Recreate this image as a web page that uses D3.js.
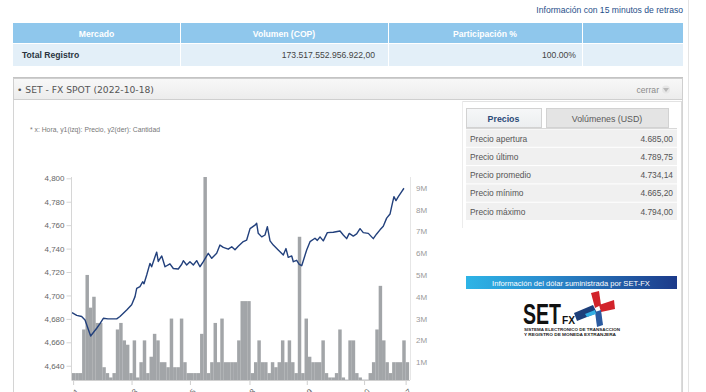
<!DOCTYPE html>
<html><head><meta charset="utf-8">
<script src="https://cdn.jsdelivr.net/npm/d3@7"></script>
<style>html,body{margin:0;padding:0;background:#fff;overflow:hidden}svg{display:block}</style>
</head><body><svg id="c" width="706" height="392"></svg>
<script>
// ---------- data ----------
const tableHeaders = ["Mercado", "Volumen (COP)", "Participación %", ""];
const summaryRow = ["Total Registro", "173.517.552.956.922,00", "100.00%", ""];
const panelTitle = "SET - FX SPOT (2022-10-18)";
const chartNote = "* x: Hora, y1(izq): Precio, y2(der): Cantidad";
const tabLabels = ["Precios", "Volúmenes (USD)"];
const priceLabels = ["Precio apertura", "Precio último", "Precio promedio", "Precio mínimo", "Precio máximo"];
const priceValues = ["4.685,00", "4.789,75", "4.734,14", "4.665,20", "4.794,00"];
const bannerText = "Información del dólar suministrada por SET-FX";

// x: minutes after 08:00
const tickMinutes = [1, 53, 105, 158, 209, 260, 297];
const tickLabels = ["08:01", "08:53", "09:45", "10:38", "11:29", "12:20", "12:57"];
const priceTicks = [4640, 4660, 4680, 4700, 4720, 4740, 4760, 4780, 4800];
const volumeTicks = [1, 2, 3, 4, 5, 6, 7, 8, 9];

const barInterval = 3; // minutes per volume bar
const barVolumesM = [
  0.5,0.5,0.5,2.5,5.0,3.5,4.0,2.8,2.8,0.77,
  0.5,0.3,0.5,2.5,2.8,2.0,1.8,0.5,2.0,0.3,
  1.0,2.0,0.5,1.25,2.3,2.0,1.0,1.0,0.77,3.0,
  0.77,0.77,3.0,1.0,0.5,0.5,0.5,0.5,2.3,9.5,
  0.5,1.0,2.8,1.0,3.0,1.0,1.0,1.0,1.0,2.0,
  3.8,3.8,3.8,0.5,1.0,2.0,1.0,1.0,0.5,1.0,
  0.77,1.0,2.0,1.0,2.0,1.0,0.5,6.75,0.5,3.0,
  1.25,1.0,1.0,1.0,2.0,0.5,0.3,0.3,0.5,2.5,
  0.3,0.2,2.0,2.0,0.5,0.3,0.2,0.2,0.5,1.0,
  2.5,4.5,2.0,1.0,0.5,1.0,1.0,1.0,2.0,1.0
];
const lineMinutes = [
  0,4.2,8.6,11.6,16.6,22.0,24.9,27.9,32.0,39.8,
  42.7,48.7,53.1,56.1,57.6,60.5,62.9,64.1,66.5,69.4,
  70.9,73.9,75.4,76.8,79.9,82.8,87.2,90.2,94.6,97.7,
  99.1,102.1,105.0,108.0,111.0,113.9,116.9,121.3,124.4,128.8,
  131.7,134.7,139.1,142.2,145.1,148.0,152.5,155.5,158.5,162.9,
  164.4,165.8,168.9,171.8,173.9,176.3,179.2,183.6,188.1,190.5,
  192.5,195.6,197.0,200.0,202.3,204.5,208.9,211.9,216.3,218.4,
  220.8,223.7,227.3,232.6,238.6,241.5,244.5,246.8,250.4,253.4,
  256.4,259.3,263.8,268.2,271.2,274.2,277.1,280.1,283.1,284.6,
  286.6,288.4,290.5,293.5,295.5
];
const linePrices = [
  4685.3,4683,4682,4679,4665.4,4672,4676,4680.5,4680,4680,
  4682,4687.6,4692,4699,4706,4707.5,4711.7,4710,4717.5,4727.4,
  4724.5,4733,4737,4729,4733.7,4724.5,4727,4723,4722.6,4726.6,
  4729.7,4726,4728.8,4726,4729.7,4724.5,4728.8,4736,4731.7,4736,
  4743,4741,4739.5,4741.6,4739,4742,4746,4747.3,4757,4760,
  4761.6,4753,4750,4751.6,4758.7,4746.6,4743,4738.8,4734.5,4740,
  4732.5,4733.7,4728.8,4730,4726.6,4725.4,4738.8,4745.9,4748.8,4747,
  4750,4746.6,4753.6,4754,4755,4751.6,4748.5,4753,4750.7,4752.5,
  4757,4753.6,4753,4748.5,4752.5,4756,4759,4766,4769.5,4776,
  4784.3,4781,4784.3,4788.6,4791.5
];

// ---------- page ----------
const svg = d3.select("#c");
const SANS = "'Liberation Sans', Arial, sans-serif";
const defs = svg.append("defs");

svg.append("line").attr("x1", 688.5).attr("x2", 688.5).attr("y1", 0).attr("y2", 392).attr("stroke", "#e4e4e4");

svg.append("text").attr("x", 683).attr("y", 13).attr("text-anchor", "end")
  .attr("font-family", SANS).attr("font-size", 8.6).attr("fill", "#1f4f8a").text("Información con 15 minutos de retraso");

// summary table
const colEdges = [13, 180, 388, 582, 683];
svg.append("rect").attr("x", 13).attr("y", 23).attr("width", 670).attr("height", 20).attr("fill", "#8fc7ec");
svg.append("rect").attr("x", 13).attr("y", 43).attr("width", 670).attr("height", 23).attr("fill", "#e3eff8");
colEdges.slice(1, -1).forEach(x => {
  svg.append("line").attr("x1", x + 0.5).attr("x2", x + 0.5).attr("y1", 23).attr("y2", 66).attr("stroke", "#fff");
});
svg.append("line").attr("x1", 13).attr("x2", 683).attr("y1", 43.5).attr("y2", 43.5).attr("stroke", "#fff");
tableHeaders.forEach((h, i) => {
  svg.append("text").attr("x", (colEdges[i] + colEdges[i + 1]) / 2).attr("y", 36.5).attr("text-anchor", "middle")
    .attr("font-family", SANS).attr("font-size", 8.6).attr("font-weight", "bold").attr("fill", "#fff").text(h);
});
svg.append("text").attr("x", 22).attr("y", 58).attr("font-family", SANS).attr("font-size", 8.6)
  .attr("font-weight", "bold").attr("fill", "#2a3440").text(summaryRow[0]);
svg.append("text").attr("x", 375).attr("y", 58).attr("text-anchor", "end").attr("font-family", SANS)
  .attr("font-size", 8.6).attr("fill", "#444").text(summaryRow[1]);
svg.append("text").attr("x", 576).attr("y", 58).attr("text-anchor", "end").attr("font-family", SANS)
  .attr("font-size", 8.6).attr("fill", "#444").text(summaryRow[2]);

// panel
svg.append("rect").attr("x", 13.5).attr("y", 78.5).attr("width", 669).attr("height", 330)
  .attr("fill", "#fff").attr("stroke", "#d4d4d4");
const hg = defs.append("linearGradient").attr("id", "hg").attr("x1", 0).attr("x2", 0).attr("y1", 0).attr("y2", 1);
hg.append("stop").attr("offset", 0).attr("stop-color", "#f8f8f8");
hg.append("stop").attr("offset", 1).attr("stop-color", "#ececec");
svg.append("rect").attr("x", 13.5).attr("y", 78.5).attr("width", 669).attr("height", 21)
  .attr("fill", "url(#hg)").attr("stroke", "#cfcfcf");
svg.append("line").attr("x1", 13).attr("x2", 683).attr("y1", 77.5).attr("y2", 77.5).attr("stroke", "#c4c4c4");
svg.append("text").attr("x", 17).attr("y", 93).attr("font-family", "'DejaVu Sans', Verdana, sans-serif")
  .attr("font-size", 9.2).attr("fill", "#555").text("• " + panelTitle);
svg.append("text").attr("x", 659).attr("y", 93).attr("text-anchor", "end").attr("font-family", SANS)
  .attr("font-size", 8.6).attr("fill", "#8a8a8a").text("cerrar");
svg.append("circle").attr("cx", 666).attr("cy", 89.5).attr("r", 4).attr("fill", "#e6e6e6");
svg.append("path").attr("d", "M663,88 L669,88 L666,92 Z").attr("fill", "#b8b8b8");

svg.append("text").attr("x", 30).attr("y", 132).attr("font-family", SANS).attr("font-size", 6.8)
  .attr("fill", "#777").text(chartNote);

// ---------- chart ----------
const plot = {left: 71.5, right: 410, top: 177, bottom: 380};
const x = d3.scaleLinear().domain([0, 300]).range([72, 409]);
const y = d3.scaleLinear().domain([4628, 4800]).range([379.8, 178.3]);
const y2 = d3.scaleLinear().domain([0, 9]).range([384, 187.7]);

defs.append("clipPath").attr("id", "pc").append("rect")
  .attr("x", plot.left).attr("y", plot.top).attr("width", plot.right - plot.left).attr("height", plot.bottom - plot.top);

const g = svg.append("g");
g.append("g").attr("clip-path", "url(#pc)").selectAll("rect").data(barVolumesM).join("rect")
  .attr("x", (d, i) => x(i * barInterval))
  .attr("width", (d, i) => x((i + 1) * barInterval) - x(i * barInterval) + 0.1)
  .attr("y", d => y2(d))
  .attr("height", d => plot.bottom - y2(d))
  .attr("fill", "#a2a5a8");

const pts = lineMinutes.map((m, i) => [m, linePrices[i]]);
g.append("path").datum(pts)
  .attr("fill", "none").attr("stroke", "#22407c").attr("stroke-width", 1.4).attr("stroke-linejoin", "round")
  .attr("d", d3.line().x(d => x(d[0])).y(d => y(d[1])));

// left axis
const la = g.append("g").attr("transform", `translate(${plot.left},0)`)
  .call(d3.axisLeft(y).tickValues(priceTicks).tickFormat(d3.format(",")).tickSize(5).tickPadding(2));
la.select(".domain").remove();
la.selectAll("line").attr("stroke", "#d6d6d6");
la.selectAll("text").attr("font-family", SANS).attr("font-size", 8).attr("fill", "#666");
g.append("line").attr("x1", plot.left).attr("x2", plot.left).attr("y1", plot.top).attr("y2", plot.bottom).attr("stroke", "#d6d6d6");

// right axis
const ra = g.append("g").attr("transform", `translate(${plot.right},0)`)
  .call(d3.axisRight(y2).tickValues(volumeTicks).tickFormat(d => d + "M").tickSize(0).tickPadding(6));
ra.select(".domain").remove();
ra.selectAll("text").attr("font-family", SANS).attr("font-size", 8).attr("fill", "#9a9a9a");
g.append("line").attr("x1", plot.right + 0.5).attr("x2", plot.right + 0.5).attr("y1", plot.top).attr("y2", plot.bottom).attr("stroke", "#e6e6e6");

// bottom axis (labels rotated; mostly below the visible window, as in the page capture)
const ba = g.append("g").attr("transform", `translate(0,${plot.bottom})`)
  .call(d3.axisBottom(x).tickValues(tickMinutes).tickFormat((d, i) => tickLabels[i]).tickSize(5).tickPadding(0));
ba.select(".domain").remove();
ba.selectAll("line").attr("stroke", "#cfcfcf");
ba.selectAll("text").attr("font-family", SANS).attr("font-size", 8).attr("fill", "#666")
  .attr("text-anchor", "end").attr("dy", 0).attr("y", 0)
  .attr("transform", "translate(6,12) rotate(-45)");
g.append("line").attr("x1", plot.left).attr("x2", plot.right).attr("y1", plot.bottom + 0.5).attr("y2", plot.bottom + 0.5).attr("stroke", "#d0d0d0");

// ---------- right info box ----------
svg.append("line").attr("x1", 462).attr("x2", 681).attr("y1", 101.5).attr("y2", 101.5).attr("stroke", "#e2e2e2");
svg.append("line").attr("x1", 681.5).attr("x2", 681.5).attr("y1", 101).attr("y2", 392).attr("stroke", "#dcdcdc");
svg.append("line").attr("x1", 462.5).attr("x2", 462.5).attr("y1", 101).attr("y2", 228).attr("stroke", "#ececec");

const tg = defs.append("linearGradient").attr("id", "tg").attr("x1", 0).attr("x2", 0).attr("y1", 0).attr("y2", 1);
tg.append("stop").attr("offset", 0).attr("stop-color", "#f6f7f8");
tg.append("stop").attr("offset", 1).attr("stop-color", "#eceef0");
const tabs = [[466, 541], [546, 668]];
tabs.forEach((t, i) => {
  svg.append("rect").attr("x", t[0] + 0.5).attr("y", 108.5).attr("width", t[1] - t[0]).attr("height", 19)
    .attr("fill", i === 0 ? "url(#tg)" : "#e4e4e4").attr("stroke", "#d2d2d2");
  svg.append("text").attr("x", (t[0] + t[1]) / 2).attr("y", 121.5).attr("text-anchor", "middle")
    .attr("font-family", SANS).attr("font-size", 8.8)
    .attr("font-weight", i === 0 ? "bold" : "normal")
    .attr("fill", i === 0 ? "#2b4a78" : "#5a5a5a").text(tabLabels[i]);
});
svg.append("line").attr("x1", 466).attr("x2", 677).attr("y1", 128.5).attr("y2", 128.5).attr("stroke", "#d8d8d8");

const rowH = 18.3;
priceLabels.forEach((lab, i) => {
  const ry = 129.5 + i * rowH;
  svg.append("rect").attr("x", 466).attr("y", ry).attr("width", 211).attr("height", rowH - 1).attr("fill", "#f0f0f0");
  svg.append("text").attr("x", 470).attr("y", ry + 12).attr("font-family", SANS).attr("font-size", 8.4)
    .attr("fill", "#555").text(lab);
  svg.append("text").attr("x", 673).attr("y", ry + 12).attr("text-anchor", "end").attr("font-family", SANS)
    .attr("font-size", 8.4).attr("fill", "#555").text(priceValues[i]);
});

// banner
const bg = defs.append("linearGradient").attr("id", "bg");
bg.append("stop").attr("offset", 0).attr("stop-color", "#2db4e6");
bg.append("stop").attr("offset", 0.35).attr("stop-color", "#2a8fd0");
bg.append("stop").attr("offset", 1).attr("stop-color", "#1c3a8a");
svg.append("rect").attr("x", 466).attr("y", 276).attr("width", 211).attr("height", 13).attr("fill", "url(#bg)");
svg.append("text").attr("x", 571).attr("y", 285.5).attr("text-anchor", "middle").attr("font-family", SANS)
  .attr("font-size", 7.6).attr("fill", "#fff").text(bannerText);

// SET-FX logo
const logo = svg.append("g");
logo.append("text").attr("x", 523).attr("y", 324).attr("font-family", SANS).attr("font-weight", "900")
  .attr("font-size", 30).attr("textLength", 38).attr("lengthAdjust", "spacingAndGlyphs")
  .attr("fill", "#111").text("SET");
logo.append("text").attr("x", 562).attr("y", 324).attr("font-family", SANS).attr("font-weight", "bold")
  .attr("font-size", 10).attr("textLength", 13).attr("lengthAdjust", "spacingAndGlyphs")
  .attr("fill", "#111").text("FX");
logo.append("path").attr("d", "M591,293 L599,291 L601,305 L595,308 Z").attr("fill", "#d2232a");
logo.append("path").attr("d", "M599,305 L614,300 L615,309 L601,312 Z").attr("fill", "#d2232a");
logo.append("path").attr("d", "M574,313 L593,305 L597,313 L577,321 Z").attr("fill", "#1d3f7a");
logo.append("path").attr("d", "M595,312 L601,310 L603,325 L597,327 Z").attr("fill", "#2b5aa0");
logo.append("path").attr("d", "M585,314 L595,310 L596,314 L587,317 Z").attr("fill", "#33aee3");
logo.append("text").attr("x", 524).attr("y", 331).attr("font-family", SANS).attr("font-weight", "bold")
  .attr("font-size", 4).attr("textLength", 96).attr("lengthAdjust", "spacingAndGlyphs")
  .attr("fill", "#222").text("SISTEMA ELECTRONICO DE TRANSACCION");
logo.append("text").attr("x", 524).attr("y", 336).attr("font-family", SANS).attr("font-weight", "bold")
  .attr("font-size", 4).attr("textLength", 92).attr("lengthAdjust", "spacingAndGlyphs")
  .attr("fill", "#222").text("Y REGISTRO DE MONEDA EXTRANJERA");
</script>
</body></html>
